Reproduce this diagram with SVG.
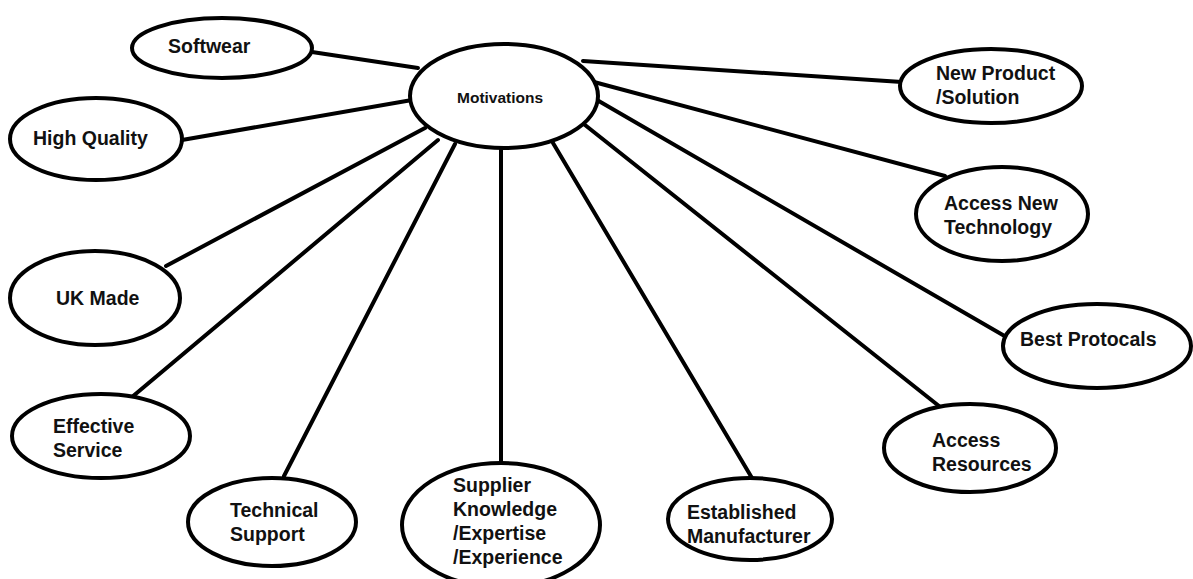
<svg xmlns="http://www.w3.org/2000/svg" width="1193" height="579" viewBox="0 0 1193 579">
  <style>
    .edge { stroke: #000; stroke-width: 4; fill: none; stroke-linecap: round; }
    .node ellipse { fill: #fff; stroke: #000; stroke-width: 4; }
    .node text { font-family: "Liberation Sans", Arial, sans-serif; font-weight: bold; font-size: 19.5px; fill: #111; }
    #motivations text { font-size: 15.5px; }
  </style>
  <rect width="1193" height="579" fill="#fff"/>

  <!-- spokes from the central topic -->
  <g id="connectors">
    <line class="edge" x1="312" y1="52" x2="418" y2="68"/>
    <line class="edge" x1="182" y1="140" x2="412" y2="100"/>
    <line class="edge" x1="166" y1="266" x2="425" y2="128"/>
    <line class="edge" x1="132" y1="397" x2="438" y2="140"/>
    <line class="edge" x1="284" y1="476" x2="455" y2="144"/>
    <line class="edge" x1="501" y1="462" x2="501" y2="150"/>
    <line class="edge" x1="752" y1="478" x2="553" y2="143"/>
    <line class="edge" x1="944" y1="410" x2="585" y2="125"/>
    <line class="edge" x1="1008" y1="338" x2="597" y2="100"/>
    <line class="edge" x1="945" y1="176" x2="594" y2="82"/>
    <line class="edge" x1="902" y1="82" x2="583" y2="61"/>
  </g>

  <g id="motivations" class="node">
    <ellipse cx="504" cy="96" rx="94" ry="52"/>
    <text x="457" y="103">Motivations</text>
  </g>
  <g id="softwear" class="node">
    <ellipse cx="222" cy="48" rx="90" ry="30"/>
    <text x="168" y="53">Softwear</text>
  </g>
  <g id="high-quality" class="node">
    <ellipse cx="96" cy="139" rx="86" ry="41"/>
    <text x="33" y="145">High Quality</text>
  </g>
  <g id="uk-made" class="node">
    <ellipse cx="95" cy="298" rx="85" ry="47"/>
    <text x="56" y="305">UK Made</text>
  </g>
  <g id="effective-service" class="node">
    <ellipse cx="101" cy="436" rx="89" ry="42"/>
    <text x="53" y="433">Effective</text>
    <text x="53" y="457">Service</text>
  </g>
  <g id="technical-support" class="node">
    <ellipse cx="272" cy="522" rx="84" ry="44"/>
    <text x="230" y="517">Technical</text>
    <text x="230" y="541">Support</text>
  </g>
  <g id="supplier" class="node">
    <ellipse cx="501" cy="525" rx="99" ry="62"/>
    <text x="453" y="492">Supplier</text>
    <text x="453" y="516">Knowledge</text>
    <text x="453" y="540">/Expertise</text>
    <text x="453" y="564">/Experience</text>
  </g>
  <g id="established-manufacturer" class="node">
    <ellipse cx="750" cy="519" rx="82" ry="41"/>
    <text x="687" y="519">Established</text>
    <text x="687" y="543">Manufacturer</text>
  </g>
  <g id="access-resources" class="node">
    <ellipse cx="970" cy="448" rx="86" ry="44"/>
    <text x="932" y="447">Access</text>
    <text x="932" y="471">Resources</text>
  </g>
  <g id="best-protocals" class="node">
    <ellipse cx="1097" cy="346" rx="94" ry="42"/>
    <text x="1020" y="346">Best Protocals</text>
  </g>
  <g id="access-new-technology" class="node">
    <ellipse cx="1002" cy="214" rx="86" ry="47"/>
    <text x="944" y="210">Access New</text>
    <text x="944" y="234">Technology</text>
  </g>
  <g id="new-product" class="node">
    <ellipse cx="991" cy="86" rx="91" ry="37"/>
    <text x="936" y="80">New Product</text>
    <text x="936" y="104">/Solution</text>
  </g>
</svg>
